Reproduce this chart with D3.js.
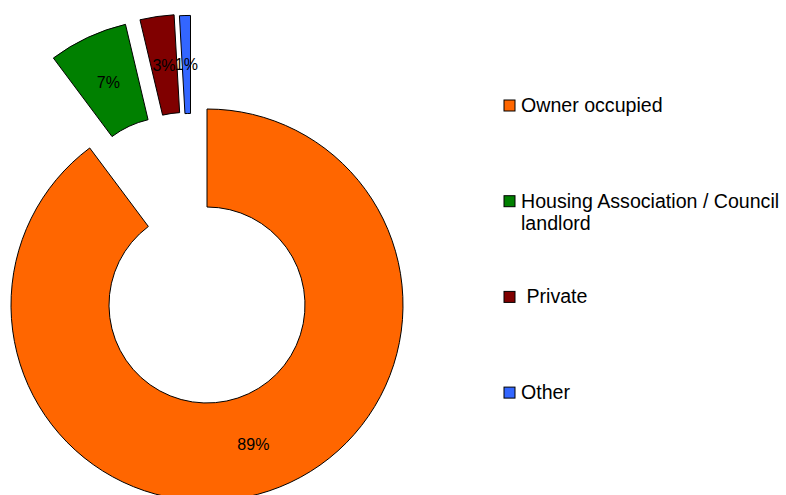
<!DOCTYPE html>
<html>
<head>
<meta charset="utf-8">
<script src="https://cdn.jsdelivr.net/npm/d3@7"></script>
<style>
  body { margin: 0; background: #fff; }
  text { font-family: "Liberation Sans", Arial, sans-serif; }
</style>
</head>
<body>
<div id="chart"></div>
<script>
// data
let categories = ["Owner occupied", "Housing Association / Council landlord", " Private", "Other"];
let legendLines = [["Owner occupied"], ["Housing Association / Council", "landlord"], [" Private"], ["Other"]];
let shares = [89.7, 6.5, 2.8, 0.9];
let pctLabels = ["89%", "7%", "3%", "1%"];
let colors = ["#FF6600", "#008000", "#800000", "#3366FF"];

// layout
let svgWidth = 786;
let svgHeight = 495;
let center = {x: 207, y: 305};
let outerR = 196;
let innerR = 98;
// how far each slice is pulled out, and in which direction (degrees clockwise from 12 o'clock)
let explodeDist = [0, 97, 97, 95];
let explodeDir = [0, 338, 347, 350];

let svg = d3.select("#chart")
            .append("svg")
            .attr("width", svgWidth)
            .attr("height", svgHeight);

let pie = d3.pie()
            .sort(null)
            .value(d => d);

let arc = d3.arc()
            .innerRadius(innerR)
            .outerRadius(outerR);

let slices = pie(shares);

let ring = svg.append("g")
              .attr("transform", `translate(${center.x},${center.y})`);

function shift(i) {
    let a = explodeDir[i] * Math.PI / 180;
    return [explodeDist[i] * Math.sin(a), -explodeDist[i] * Math.cos(a)];
}

let sliceGroup = ring.selectAll("g.slice")
                     .data(slices)
                     .enter()
                        .append("g")
                        .attr("class", "slice")
                        .attr("transform", (d, i) => `translate(${shift(i)})`);

sliceGroup.append("path")
          .attr("d", arc)
          .attr("fill", (d, i) => colors[i])
          .attr("stroke", "#000")
          .attr("stroke-width", 1);

sliceGroup.append("text")
          .attr("transform", d => `translate(${arc.centroid(d)})`)
          .attr("text-anchor", "middle")
          .attr("dy", "0.36em")
          .attr("font-size", "16px")
          .attr("fill", "#000")
          .text((d, i) => pctLabels[i]);

// legend
let legendX = 504;
let legendTop = 100;
let legendStep = 95.7;

let legend = svg.append("g").selectAll("g")
                .data(categories)
                .enter()
                    .append("g")
                    .attr("transform", (d, i) => `translate(${legendX},${legendTop + i * legendStep})`);

legend.append("rect")
      .attr("width", 11)
      .attr("height", 11)
      .attr("fill", (d, i) => colors[i])
      .attr("stroke", "#000")
      .attr("stroke-width", 1);

legend.append("text")
      .attr("x", 17)
      .attr("y", 12)
      .attr("font-size", "19.6px")
      .style("white-space", "pre")
      .attr("fill", "#000")
      .selectAll("tspan")
      .data((d, i) => legendLines[i])
      .enter()
          .append("tspan")
          .attr("x", 17)
          .attr("dy", (d, j) => j === 0 ? 0 : 22.5)
          .text(d => d);
</script>
</body>
</html>
